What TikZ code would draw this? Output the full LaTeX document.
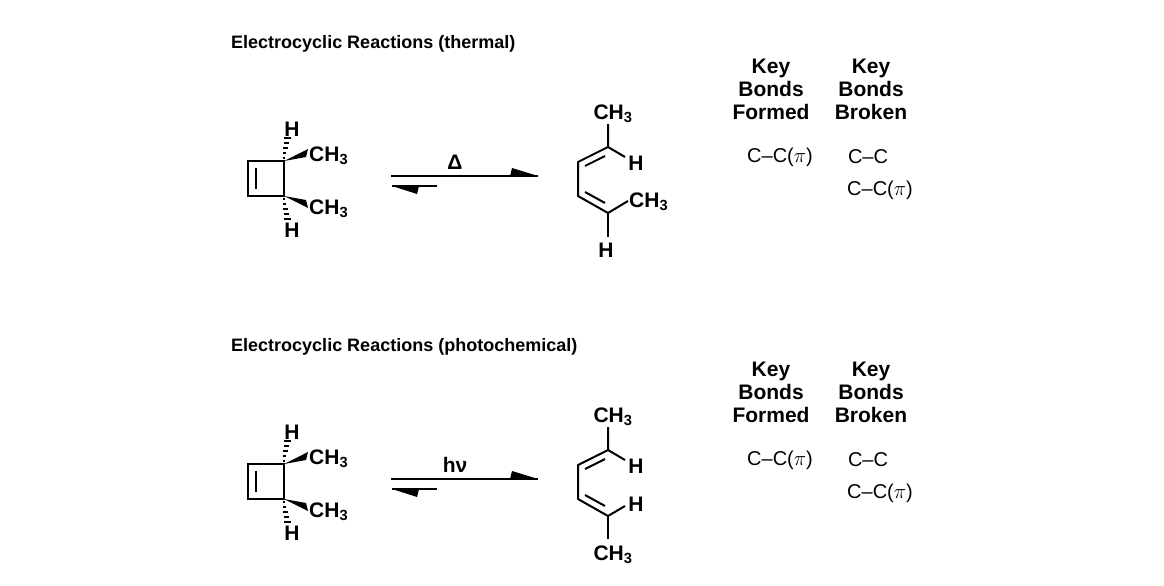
\documentclass[tikz,border=0pt]{standalone}
\usepackage{fontspec}
\setmainfont{Liberation Sans}
\usetikzlibrary{positioning,calc}
\begin{document}
\begin{tikzpicture}[x=1pt,y=-1pt,
                    bond/.style={line width=2pt},
                    lbl/.style={font=\bfseries\fontsize{21}{22}\selectfont,inner sep=0pt},
                    ttl/.style={font=\bfseries\fontsize{18}{20}\selectfont,inner sep=0pt},
                    head/.style={font=\bfseries\fontsize{21}{23}\selectfont,align=center,inner sep=0pt},
                    txt/.style={font=\fontsize{20}{21}\selectfont,inner sep=0pt}
                ]
    \useasboundingbox (0,0) rectangle (1164,586);
    % thermal and photochemical rows
    \foreach \dy/\title/\cond/\lo in {0/thermal/Δ/0, 303/photochemical/hν/1}
        {
        \begin{scope}[yshift=-\dy pt]
            \node[ttl,anchor=west] (title) at (231,44) {Electrocyclic Reactions (\title)};
            % cyclobutene
            \coordinate (ctop) at (284,161);
            \coordinate (cbot) at (284,196);
            \draw[bond,line join=miter] (ctop) -- (248,161) -- (248,196) -- (cbot) -- cycle;
            \draw[bond] (256,168) -- (256,189);
            \fill (ctop) -- (308,149) -- (306,157) -- cycle;
            \fill (cbot) -- (308,208) -- (306,200) -- cycle;
            \foreach \k in {0,...,4}
                {
                \draw[line width=1.5pt] ($(ctop)+(0.8*\k,-5*\k-3)$) ++(-1-0.6*\k,0) -- ++(2+1.2*\k,0);
                \draw[line width=1.5pt] ($(cbot)+(0.8*\k,5*\k+3)$) ++(-1-0.6*\k,0) -- ++(2+1.2*\k,0);
                }
            \node[lbl] (ht) at (292,129) {H};
            \node[lbl] (hb) at (292,230) {H};
            \node[lbl,anchor=west] (me1) at (309,156) {CH\textsubscript{3}};
            \node[lbl,anchor=west] (me2) at (309,209) {CH\textsubscript{3}};
            % equilibrium arrows
            \coordinate (fs) at (391,176);
            \coordinate (fe) at (538,176);
            \coordinate (bs) at (437,186);
            \coordinate (be) at (392,186);
            \draw[bond] (fs) -- (fe);
            \fill (fe) -- (512,168) -- (510,176) -- cycle;
            \draw[bond] (bs) -- (be);
            \fill (be) -- (417,194) -- (419,186) -- cycle;
            \node[lbl] (cond) at (455,162) {\cond};
            % diene
            \coordinate (c2) at (608,147);
            \coordinate (c3) at (578,162);
            \coordinate (c4) at (578,196);
            \coordinate (c5) at (608,213);
            \draw[bond,line join=round] (608,124) -- (c2) -- (c3) -- (c4) -- (c5);
            \draw[bond] (585,166) -- (605,156);
            \draw[bond] (585,192) -- (605,203);
            \draw[bond] (c2) -- (625,157);
            \node[lbl] (top) at (613,114) {CH\textsubscript{3}};
            \node[lbl] (h2) at (636,163) {H};
            \ifnum\lo=0
                \draw[bond] (c5) -- (628,201);
                \draw[bond] (c5) -- (608,237);
                \node[lbl,anchor=west] (me5) at (629,202) {CH\textsubscript{3}};
                \node[lbl] (h5) at (606,250) {H};
            \else
                \draw[bond] (c5) -- (625,203);
                \draw[bond] (c5) -- (608,236);
                \node[lbl] (h5) at (636,201) {H};
                \node[lbl] (me5) at (613,252) {CH\textsubscript{3}};
            \fi
            % key bonds
            \node[head] (formed) at (771,89) {Key\\Bonds\\Formed};
            \node[head] (broken) at (871,89) {Key\\Bonds\\Broken};
            \node[txt] (f1) at (780,157) {C--C($\pi$)};
            \node[txt] (b1) at (868,157) {C--C};
            \node[txt] (b2) at (880,190) {C--C($\pi$)};
        \end{scope}
        }
\end{tikzpicture}
\end{document}
